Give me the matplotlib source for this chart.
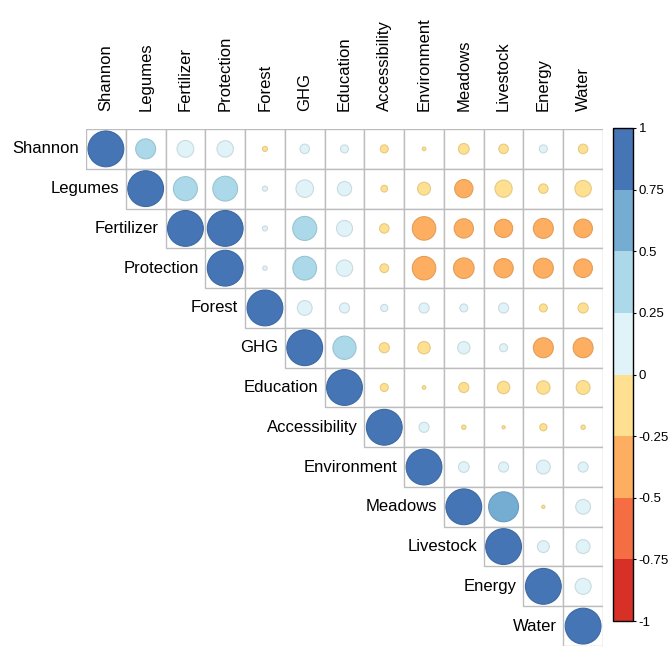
import numpy as np
import matplotlib
matplotlib.use("Agg")
import matplotlib.pyplot as plt
from matplotlib.patches import Rectangle, Circle
from matplotlib.colors import ListedColormap, BoundaryNorm, to_rgb
from matplotlib.colorbar import ColorbarBase

plt.rcParams['font.family'] = ['Liberation Sans', 'DejaVu Sans']

variables = ["Shannon", "Legumes", "Fertilizer", "Protection", "Forest", "GHG",
             "Education", "Accessibility", "Environment", "Meadows", "Livestock",
             "Energy", "Water"]

# Upper-triangle correlations, one list per row (starting at the diagonal)
row_shannon = [1.00, 0.31, 0.22, 0.21, -0.02, 0.07, 0.05, -0.05, -0.01, -0.09, -0.07, 0.05, -0.07]
row_legumes = [1.00, 0.45, 0.48, 0.02, 0.24, 0.16, -0.035, -0.13, -0.26, -0.23, -0.07, -0.21]
row_fertilizer = [1.00, 1.00, 0.02, 0.45, 0.20, -0.07, -0.43, -0.29, -0.26, -0.31, -0.27]
row_protection = [1.00, 0.015, 0.44, 0.21, -0.06, -0.43, -0.33, -0.29, -0.31, -0.27]
row_forest = [1.00, 0.17, 0.08, 0.04, 0.08, 0.05, 0.08, -0.05, -0.08]
row_ghg = [1.00, 0.42, -0.08, -0.12, 0.12, 0.05, -0.31, -0.31]
row_education = [1.00, -0.05, -0.01, -0.08, -0.12, -0.14, -0.15]
row_accessibility = [1.00, 0.08, -0.015, -0.008, -0.04, -0.015]
row_environment = [1.00, 0.09, 0.08, 0.15, 0.08]
row_meadows = [1.00, 0.70, -0.008, 0.17]
row_livestock = [1.00, 0.11, 0.15]
row_energy = [1.00, 0.20]
row_water = [1.00]

rows = [row_shannon, row_legumes, row_fertilizer, row_protection, row_forest,
        row_ghg, row_education, row_accessibility, row_environment, row_meadows,
        row_livestock, row_energy, row_water]

palette = ["#D73027", "#F46D43", "#FDAE61", "#FEE090",
           "#E0F3F8", "#ABD9E9", "#74ADD1", "#4575B4"]
bounds = [-1, -0.75, -0.5, -0.25, 0, 0.25, 0.5, 0.75, 1]
cbar_ticks = [-1, -0.75, -0.5, -0.25, 0, 0.25, 0.5, 0.75, 1]
cmap = ListedColormap(palette)
norm = BoundaryNorm(bounds, cmap.N)

W, H = 671, 651
fig = plt.figure(figsize=(W / 100, H / 100), dpi=100)

gx0, gx1, gy0, gy1 = 86, 603, 129, 646
ax = fig.add_axes([gx0 / W, 1 - gy1 / H, (gx1 - gx0) / W, (gy1 - gy0) / H])
n = len(variables)
ax.set_xlim(0, n)
ax.set_ylim(n, 0)
ax.set_axis_off()

grid_col = "#BDBDBD"
for i, vals in enumerate(rows):
    for k, r in enumerate(vals):
        j = i + k
        ax.add_patch(Rectangle((j, i), 1, 1, facecolor="white",
                               edgecolor=grid_col, linewidth=1.0, zorder=1))
        face = cmap(norm(r))
        edge = tuple(c * 0.9 for c in to_rgb(face))
        rad = 0.9 * np.sqrt(abs(r)) / 2
        ax.add_patch(Circle((j + 0.5, i + 0.5), rad, facecolor=face,
                            edgecolor=edge, linewidth=0.8, zorder=2))

for i, name in enumerate(variables):
    ax.text(i - 0.17, i + 0.5, name, ha="right", va="center", fontsize=12,
            color="black", clip_on=False)
    ax.text(i + 0.5, -0.45, name, ha="center", va="bottom", rotation=90,
            fontsize=12, color="black", clip_on=False)

# Colour legend
cax = fig.add_axes([613 / W, 1 - 621 / H, 20 / W, (621 - 128) / H])
cb = ColorbarBase(cax, cmap=cmap, norm=norm, boundaries=bounds, ticks=cbar_ticks,
                  spacing="proportional", orientation="vertical")
cb.outline.set_edgecolor("black")
cb.outline.set_linewidth(1.0)
cb.ax.set_yticklabels([f"{t:g}" for t in cbar_ticks])
cb.ax.tick_params(labelsize=9.5, length=2, width=0.8, pad=2, colors="black")

fig.savefig("out.png", dpi=100, facecolor="white")
